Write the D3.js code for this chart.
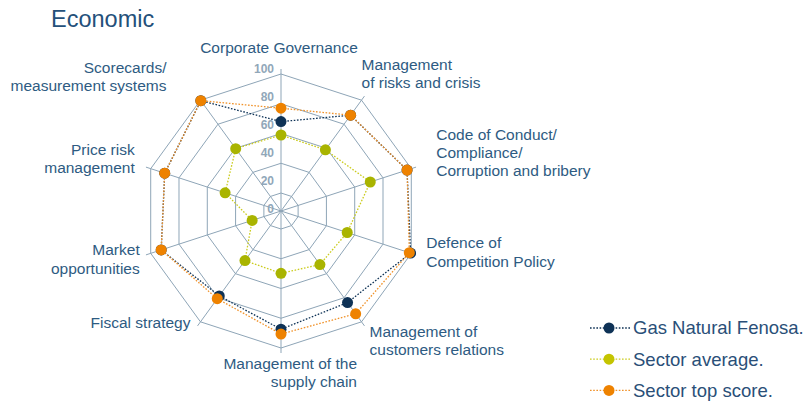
<!DOCTYPE html>
<html>
<head>
<meta charset="utf-8">
<script src="https://cdn.jsdelivr.net/npm/d3@7"></script>
<style>
  body { margin: 0; background: #fff; }
  svg { display: block; font-family: "Liberation Sans", Arial, sans-serif; }
  .catLabel { fill: #2e5b82; font-size: 15.5px; }
  .tickLabel { fill: #91a7b9; font-size: 12px; font-weight: bold; }
  .legendText { fill: #2a4f78; font-size: 18.5px; }
</style>
</head>
<body>
<div id="radar"></div>
<script>
// Data
var categories = [
    "Corporate Governance",
    "Management of risks and crisis",
    "Code of Conduct/ Compliance/ Corruption and bribery",
    "Defence of Competition Policy",
    "Management of customers relations",
    "Management of the supply chain",
    "Fiscal strategy",
    "Market opportunities",
    "Price risk management",
    "Scorecards/ measurement systems"
];
var categoryLines = [
    ["Corporate Governance"],
    ["Management", "of risks and crisis"],
    ["Code of Conduct/", "Compliance/", "Corruption and bribery"],
    ["Defence of", "Competition Policy"],
    ["Management of", "customers relations"],
    ["Management of the", "supply chain"],
    ["Fiscal strategy"],
    ["Market", "opportunities"],
    ["Price risk", "management"],
    ["Scorecards/", "measurement systems"]
];
var gasNatural = [68, 87.5, 97, 99.5, 84, 87.4, 78.5, 92.6, 90.1, 99.6];
var sectorAverage = [59, 58.7, 71, 54.7, 52.4, 49.8, 49.1, 28.3, 47.4, 59.7];
var sectorTop = [77, 87.5, 97, 98.6, 93.3, 90.6, 80.8, 92.6, 90.1, 99.6];
var ringValues = [20, 40, 60, 80, 100];
var tickValues = [0, 20, 40, 60, 80, 100];
var seriesNames = ["Gas Natural Fenosa.", "Sector average.", "Sector top score."];

var width = 804;
var height = 406;
var cx = 281;
var cy = 211;
var outerR = 137;

var svg = d3
    .select("#radar")
    .append("svg")
    .attr("width", width)
    .attr("height", height);

svg.append("rect").attr("width", width).attr("height", height).attr("fill", "#fff");

// title
svg.append("text")
    .attr("x", 51)
    .attr("y", 27)
    .attr("fill", "#24507a")
    .attr("font-size", "23.5px")
    .text("Economic");

var rScale = d3.scaleLinear().domain([20, 100]).range([18, outerR]);
var tickY = d3.scaleLinear().domain([0, 100]).range([cy - 2, cy - 142]);
var angle = d3.scalePoint().domain(d3.range(categories.length + 1)).range([0, 2 * Math.PI]);

function pt(i, r) {
    var a = angle(i);
    return [cx + r * Math.sin(a), cy - r * Math.cos(a)];
}

var grid = svg.append("g").attr("class", "grid");

// rings
ringValues.forEach(function(v) {
    var pts = categories.map(function(c, i) { return pt(i, rScale(v)); });
    grid.append("polygon")
        .attr("points", pts.map(function(p) { return p.join(","); }).join(" "))
        .attr("fill", "none")
        .attr("stroke", "#8ea5b7")
        .attr("stroke-width", 1);
});

// spokes
categories.forEach(function(c, i) {
    var p = pt(i, outerR + 5);
    grid.append("line")
        .attr("x1", cx).attr("y1", cy)
        .attr("x2", p[0]).attr("y2", p[1])
        .attr("stroke", "#8ea5b7")
        .attr("stroke-width", 1);
});

// tick labels
svg.append("g").selectAll("text")
    .data(tickValues)
    .enter()
    .append("text")
    .attr("class", "tickLabel")
    .attr("x", 274)
    .attr("y", function(d) { return tickY(d); })
    .attr("dy", "0.35em")
    .attr("text-anchor", "end")
    .text(function(d) { return d; });

// category labels: offset from outer vertex
var labelPos = [
    { anchor: "middle", dx: -2, dy: -21 },
    { anchor: "start", dx: 0, dy: -30 },
    { anchor: "start", dx: 25, dy: -29 },
    { anchor: "start", dx: 15, dy: -5 },
    { anchor: "start", dx: 8, dy: 15 },
    { anchor: "end", dx: 76, dy: 21 },
    { anchor: "end", dx: -10, dy: 6 },
    { anchor: "end", dx: -11, dy: 2 },
    { anchor: "end", dx: -16, dy: -14 },
    { anchor: "end", dx: -34, dy: -27 }
];
var lineH = 18.3;

categoryLines.forEach(function(lines, i) {
    var p = pt(i, outerR);
    var t = svg.append("text")
        .attr("class", "catLabel")
        .attr("text-anchor", labelPos[i].anchor);
    lines.forEach(function(l, k) {
        t.append("tspan")
            .attr("x", p[0] + labelPos[i].dx)
            .attr("y", p[1] + labelPos[i].dy + k * lineH)
            .text(l);
    });
});

// series
var series = [
    { name: seriesNames[1], values: sectorAverage, line: "#cbcc1e", dot: "#a9b400" },
    { name: seriesNames[0], values: gasNatural, line: "#0e3256", dot: "#0e3256" },
    { name: seriesNames[2], values: sectorTop, line: "#f0922a", dot: "#ee8200" }
];

var lineGen = d3.lineRadial()
    .angle(function(d, i) { return angle(i); })
    .radius(function(d) { return rScale(d); })
    .curve(d3.curveLinearClosed);

series.forEach(function(s) {
    var g = svg.append("g").attr("transform", "translate(" + cx + "," + cy + ")");
    g.append("path")
        .attr("d", lineGen(s.values))
        .attr("fill", "none")
        .attr("stroke", s.line)
        .attr("stroke-width", 1.3)
        .attr("stroke-dasharray", "1.6,1.6");
    g.selectAll("circle")
        .data(s.values)
        .enter()
        .append("circle")
        .attr("cx", function(d, i) { return pt(i, rScale(d))[0] - cx; })
        .attr("cy", function(d, i) { return pt(i, rScale(d))[1] - cy; })
        .attr("r", 5.5)
        .attr("fill", s.dot);
});

// legend
var legendItems = [
    { name: seriesNames[0], line: "#0e3256", dot: "#0e3256" },
    { name: seriesNames[1], line: "#cbcc1e", dot: "#c4c400" },
    { name: seriesNames[2], line: "#f0922a", dot: "#ee8200" }
];
var legend = svg.append("g").attr("transform", "translate(590,328)");
legendItems.forEach(function(d, i) {
    var row = legend.append("g").attr("transform", "translate(0," + (i * 31.2) + ")");
    row.append("line")
        .attr("x1", 0).attr("x2", 40)
        .attr("y1", 0).attr("y2", 0)
        .attr("stroke", d.line)
        .attr("stroke-width", 1.3)
        .attr("stroke-dasharray", "1.6,1.6");
    row.append("circle")
        .attr("cx", 19).attr("cy", 0)
        .attr("r", 5.5)
        .attr("fill", d.dot);
    row.append("text")
        .attr("class", "legendText")
        .attr("x", 43)
        .attr("y", 0)
        .attr("dy", "0.35em")
        .text(d.name);
});
</script>
</body>
</html>
